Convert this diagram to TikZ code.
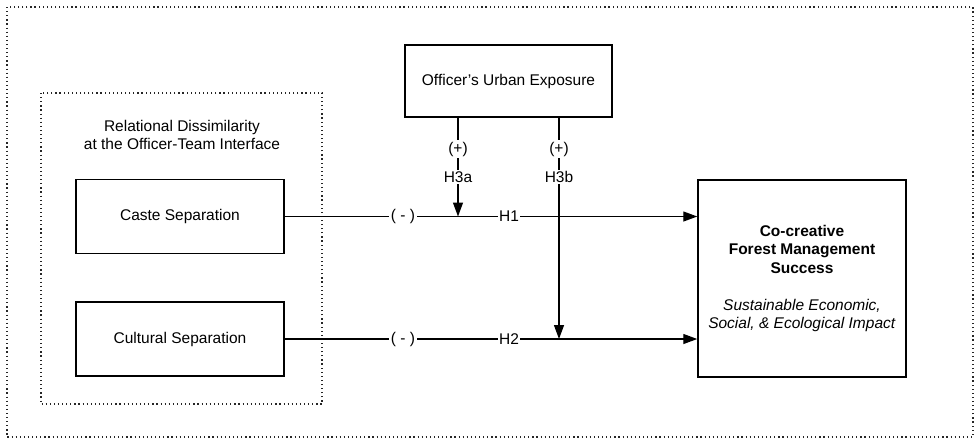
\documentclass[tikz,border=0pt]{standalone}
\usepackage{fontspec}
\setmainfont{Liberation Sans}
\usetikzlibrary{arrows.meta, positioning, calc}
\newcommand{\txtsize}{\fontsize{15.5}{18.5}\selectfont}
\tikzstyle{varbox}  = [rectangle, minimum width=208pt, minimum height=74pt,
                       align=center, draw=black, line width=1.5pt, font=\txtsize]
\tikzstyle{frame}   = [draw=black!85, line width=1.2pt, dash pattern=on 1.2pt off 2.9pt]
\tikzstyle{arrow}   = [-{Triangle[length=14pt, width=10pt]}, line width=1.3pt]
\tikzstyle{tag}     = [fill=white, inner sep=1.5pt, font=\txtsize]

\begin{document}
\begin{tikzpicture}[x=1pt, y=-1pt]
  \useasboundingbox (0,0) rectangle (975,440);
  \draw [frame] (7,7) rectangle (973,437);
  \draw [frame] (41,93) rectangle (322,404);

  \node (group) at (182,135) [align=center, font=\txtsize]
        {Relational Dissimilarity\\at the Officer-Team Interface};
  \node (caste)    [varbox] at (180,216.5) {Caste Separation};
  \node (cultural) [varbox] at (180,339)   {Cultural Separation};
  \node (urban)    [varbox, minimum width=207pt, minimum height=72pt] at (508.5,81)
        {Officer's Urban Exposure};
  \node (success)  [varbox, minimum height=197pt] at (802,278.5)
        {\textbf{Co-creative}\\\textbf{Forest Management}\\\textbf{Success}\\[18.5pt]
         \textit{Sustainable Economic,}\\\textit{Social, \& Ecological Impact}};

  \coordinate (h3a) at (458,216.5);
  \coordinate (h3b) at (559,339);

  \draw [arrow] (caste.east) -- (success.west |- caste.east);
  \draw [arrow] (cultural.east) -- (success.west |- cultural.east);
  \draw [arrow] (urban.south -| h3a) -- (h3a);
  \draw [arrow] (urban.south -| h3b) -- (h3b);

  % Annotations
  \node (neg1)  [tag] at (403,216.5) {( - )};
  \node (neg2)  [tag] at (403,339)   {( - )};
  \node (hyp1)  [tag] at (509,216.5) {H1};
  \node (hyp2)  [tag] at (509,339)   {H2};
  \node (pos3a) [tag] at (458,149)   {(+)};
  \node (pos3b) [tag] at (559,149)   {(+)};
  \node (hyp3a) [tag] at (458,177)   {H3a};
  \node (hyp3b) [tag] at (559,177)   {H3b};
\end{tikzpicture}
\end{document}
